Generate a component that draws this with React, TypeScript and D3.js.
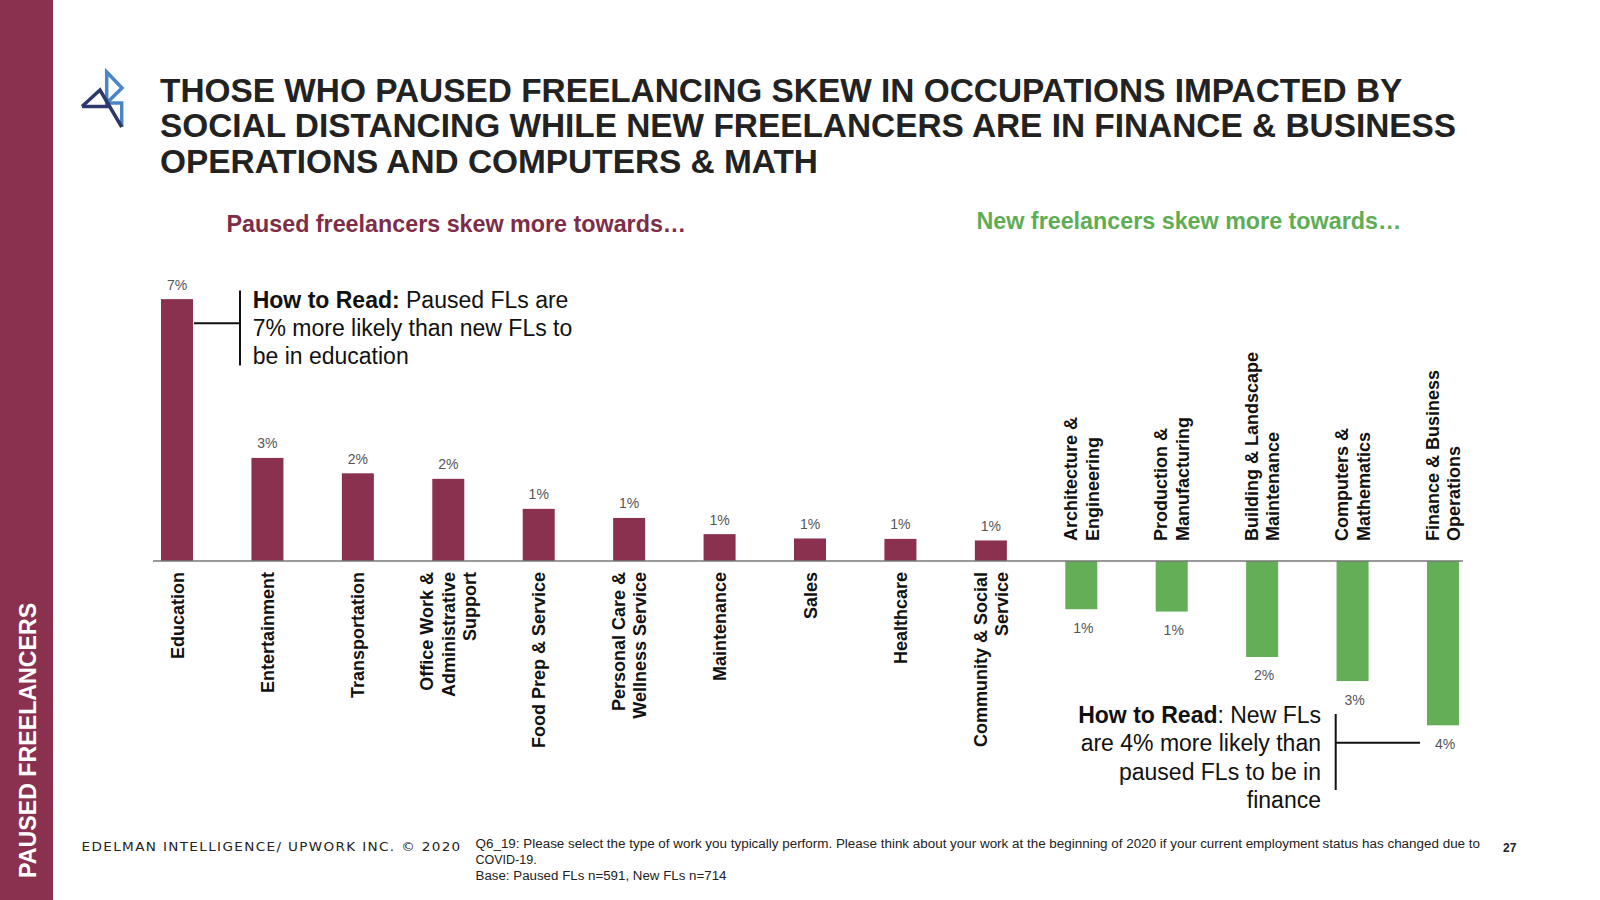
import React from "react";
import * as d3 from "d3";

const categories: string[][] = [
  ["Education"],
  ["Entertainment"],
  ["Transportation"],
  ["Office Work &", "Administrative", "Support"],
  ["Food Prep & Service"],
  ["Personal Care &", "Wellness Service"],
  ["Maintenance"],
  ["Sales"],
  ["Healthcare"],
  ["Community & Social", "Service"],
  ["Architecture &", "Engineering"],
  ["Production &", "Manufacturing"],
  ["Building & Landscape", "Maintenance"],
  ["Computers &", "Mathematics"],
  ["Finance & Business", "Operations"],
];
// positive = paused freelancers skew, negative = new freelancers skew
const values: number[] = [
  6.63, 2.61, 2.22, 2.08, 1.32, 1.09, 0.68, 0.57, 0.56, 0.52,
  -1.22, -1.28, -2.43, -3.04, -4.16,
];
const valueLabels: string[] = [
  "7%", "3%", "2%", "2%", "1%", "1%", "1%", "1%", "1%", "1%",
  "1%", "1%", "2%", "3%", "4%",
];
const titleLines: string[] = [
  "THOSE WHO PAUSED FREELANCING SKEW IN OCCUPATIONS IMPACTED BY",
  "SOCIAL DISTANCING WHILE NEW FREELANCERS ARE IN FINANCE & BUSINESS",
  "OPERATIONS AND COMPUTERS & MATH",
];
const note1: string[] = ["Paused FLs are", "7% more likely than new FLs to", "be in education"];
const note2: string[] = ["New FLs", "are 4% more likely than", "paused FLs to be in", "finance"];
const footnote: string[] = [
  "Q6_19: Please select the type of work you typically perform. Please think about your work at the beginning of 2020 if your current employment status has changed due to",
  "COVID-19.",
  "Base: Paused FLs n=591, New FLs n=714",
];

const MAROON = "#8A3150";
const GREEN = "#65AE58";
const FONT = "'Liberation Sans', Arial, Helvetica, sans-serif";

export default function App() {
  const keys = categories.map((c) => c.join(" "));
  const x = d3.scaleBand<string>().domain(keys).range([161, 1459]).paddingInner(0.646).paddingOuter(0);
  const y = d3.scaleLinear().domain([-5, 7]).range([561 + 5 * 39.5, 561 - 7 * 39.5]);
  const y0 = y(0);
  const bw = x.bandwidth();
  const lh = 21.6;

  return (
    <svg width={1600} height={900} style={{ position: "absolute", left: 0, top: 0, background: "#fff" }} fontFamily={FONT}>
      <rect x={0} y={0} width={1600} height={900} fill="#fff" />
      {/* sidebar */}
      <rect x={0} y={0} width={53} height={900} fill={MAROON} />
      <text transform="translate(35.5,878) rotate(-90)" fill="#fff" fontWeight="bold" fontSize={23.2}>
        PAUSED FREELANCERS
      </text>
      {/* logo */}
      <g fill="none" strokeWidth={3.5} strokeLinejoin="miter">
        <path d="M106.7,72 L122,88 L106.7,103 Z" stroke="#4A86C5" />
        <path d="M106.7,103 L121.7,103 L121.7,127" stroke="#4A86C5" />
        <path d="M82,106.5 L100,90 L121.7,127" stroke="#2B3A6B" />
        <path d="M82,106.5 L110,106.5" stroke="#2B3A6B" />
      </g>
      {/* title */}
      {titleLines.map((t, i) => (
        <text key={i} x={160} y={101.6 + i * 35.7} fontSize={33.4} fontWeight="bold" fill="#222">
          {t}
        </text>
      ))}
      {/* subtitles */}
      <text x={226.5} y={232} fontSize={23.3} fontWeight="bold" fill="#7E2D47">
        Paused freelancers skew more towards…
      </text>
      <text x={976.5} y={229} fontSize={23.3} fontWeight="bold" fill="#5EAD55">
        New freelancers skew more towards…
      </text>
      {/* bars */}
      {values.map((v, i) => {
        const k = keys[i];
        const bx = x(k)!;
        return (
          <rect
            key={k}
            x={bx}
            y={Math.min(y(v), y0)}
            width={bw}
            height={Math.abs(y(v) - y0)}
            fill={v >= 0 ? MAROON : GREEN}
          />
        );
      })}
      {/* value labels */}
      {values.map((v, i) => {
        const cx = x(keys[i])! + bw / 2;
        return (
          <text
            key={"v" + i}
            x={v >= 0 ? cx : cx + 2}
            y={v >= 0 ? y(v) - 9.5 : y(v) + 23.5}
            textAnchor="middle"
            fontSize={14}
            fill="#555"
          >
            {valueLabels[i]}
          </text>
        );
      })}
      {/* axis line */}
      <line x1={153} x2={1463} y1={y0} y2={y0} stroke="#777" strokeWidth={1.5} />
      {/* category labels */}
      {categories.map((lines, i) => {
        const cx = x(keys[i])! + bw / 2;
        const pos = values[i] >= 0;
        const n = lines.length;
        return lines.map((l, j) => {
          const bx = cx + 6.5 + (j - (n - 1) / 2) * lh;
          const by = pos ? y0 + 11 : y0 - 20;
          return (
            <text
              key={"c" + i + "-" + j}
              transform={`translate(${bx},${by}) rotate(-90)`}
              textAnchor={pos ? "end" : "start"}
              fontSize={18}
              fontWeight="bold"
              fill="#111"
            >
              {l}
            </text>
          );
        });
      })}
      {/* annotation 1 */}
      <g stroke="#111" strokeWidth={2}>
        <line x1={240} x2={240} y1={290.5} y2={365.5} />
        <line x1={194} x2={240} y1={323.3} y2={323.3} />
      </g>
      {note1.map((t, i) => (
        <text key={"n1" + i} x={252.7} y={308 + i * 28} fontSize={23} fill="#111">
          {i === 0 ? (
            <>
              <tspan fontWeight="bold">How to Read:</tspan> {t}
            </>
          ) : (
            t
          )}
        </text>
      ))}
      {/* annotation 2 */}
      <g stroke="#111" strokeWidth={2}>
        <line x1={1335.7} x2={1335.7} y1={714} y2={790} />
        <line x1={1335.7} x2={1420} y1={742.7} y2={742.7} />
      </g>
      {note2.map((t, i) => (
        <text key={"n2" + i} x={1321} y={723 + i * 28.3} fontSize={23} fill="#111" textAnchor="end">
          {i === 0 ? (
            <>
              <tspan fontWeight="bold">How to Read</tspan>: {t}
            </>
          ) : (
            t
          )}
        </text>
      ))}
      {/* footer */}
      <text x={81.6} y={851} fontSize={12} fill="#222" fontFamily="'DejaVu Sans', sans-serif" letterSpacing={1.2} textLength={380} lengthAdjust="spacingAndGlyphs">
        EDELMAN INTELLIGENCE/ UPWORK INC. © 2020
      </text>
      {footnote.map((t, i) => (
        <text
          key={"f" + i}
          x={475.5}
          y={848 + i * 16}
          fontSize={12.5}
          fill="#222"
          textLength={i === 0 ? 1004.5 : i === 2 ? 251 : undefined}
          lengthAdjust={i === 1 ? undefined : "spacingAndGlyphs"}
        >
          {t}
        </text>
      ))}
      <text x={1503} y={852} fontSize={12} fontWeight="bold" fill="#222">
        27
      </text>
    </svg>
  );
}
